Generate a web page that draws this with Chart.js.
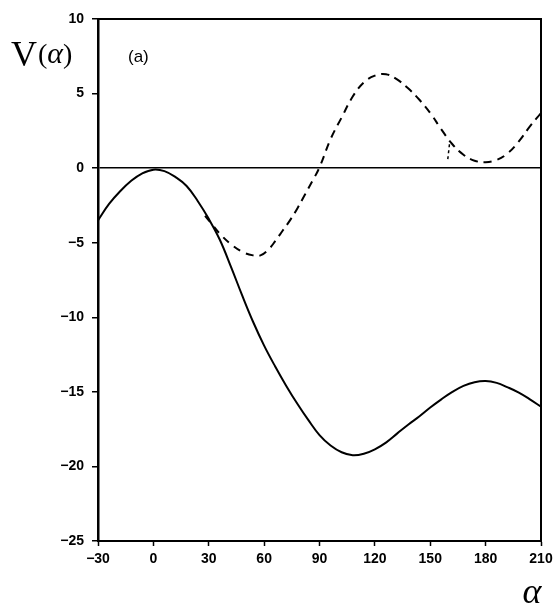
<!DOCTYPE html>
<html>
<head>
<meta charset="utf-8">
<script src="https://cdn.jsdelivr.net/npm/chart.js@4"></script>
<style>
  html, body { margin: 0; padding: 0; background: #fff; }
  #wrap { width: 558px; height: 609px; }
</style>
</head>
<body>
<div id="wrap"><canvas id="chart" width="558" height="609"></canvas></div>
<script>
// solid curve
const alphaSolid = [-30, -24, -18, -12, -6, 0, 6, 12, 18, 24, 30, 36, 42, 48, 54, 60, 66, 72, 78, 84,
	90, 96, 102, 108, 114, 120, 126, 132, 138, 144, 150, 156, 162, 168, 174, 180, 186, 192, 198, 204, 210];
const vSolid = [-3.5, -2.4, -1.55, -0.85, -0.35, -0.1, -0.2, -0.6, -1.2, -2.2, -3.4, -4.8, -6.6, -8.5, -10.3, -11.9, -13.3, -14.6, -15.8, -16.9,
	-17.9, -18.6, -19.05, -19.25, -19.15, -18.85, -18.4, -17.8, -17.2, -16.65, -16.05, -15.5, -15.0, -14.6, -14.35, -14.27, -14.4, -14.7, -15.05, -15.5, -16.0];

// dashed curve
const alphaDashed = [28, 32, 36, 42, 48, 54, 58, 62, 66, 70, 74, 78, 82, 86, 90, 96, 102, 108, 114, 120,
	126, 132, 138, 144, 150, 156, 162, 168, 174, 180, 186, 192, 198, 204, 210];
const vDashed = [-3.2, -3.8, -4.4, -5.1, -5.6, -5.85, -5.85, -5.5, -4.9, -4.2, -3.5, -2.7, -1.8, -0.9, 0.05, 1.95, 3.4, 4.8, 5.75, 6.2,
	6.3, 5.95, 5.35, 4.6, 3.7, 2.6, 1.6, 0.9, 0.5, 0.4, 0.55, 1.0, 1.8, 2.8, 3.7];

// small stray stroke near 160
const alphaGlitch = [159.5, 160.5];
const vGlitch = [0.6, 1.7];

const xMin = -30, xMax = 210, xStep = 30;
const yMin = -25, yMax = 10, yStep = 5;

const toPoints = (xs, ys) => xs.map((x, i) => ({ x: x, y: ys[i] }));
const minus = (v) => String(v).replace('-', '\u2212');

const labelsPlugin = {
	id: 'labels',
	afterDraw(chart) {
		const ctx = chart.ctx;
		const area = chart.chartArea;
		ctx.save();
		// frame
		ctx.strokeStyle = '#000';
		ctx.lineWidth = 2;
		ctx.beginPath();
		ctx.moveTo(area.left, area.top);
		ctx.lineTo(area.right, area.top);
		ctx.lineTo(area.right, area.bottom);
		ctx.stroke();

		ctx.fillStyle = '#000';
		ctx.textBaseline = 'alphabetic';
		// V(alpha)
		let x = 11;
		ctx.font = '36px "Liberation Serif"';
		ctx.fillText('V', x, 66);
		x += ctx.measureText('V').width + 1;
		ctx.font = '28px "Liberation Serif"';
		ctx.fillText('(', x, 63);
		x += ctx.measureText('(').width;
		ctx.font = 'italic 30px "Liberation Serif"';
		ctx.fillText('\u03b1', x, 63);
		x += ctx.measureText('\u03b1').width;
		ctx.font = '28px "Liberation Serif"';
		ctx.fillText(')', x, 63);

		// panel tag
		ctx.font = '17px "Liberation Sans"';
		ctx.fillText('(a)', 128, 62);

		// x title
		ctx.font = 'italic 36px "Liberation Serif"';
		ctx.textAlign = 'center';
		ctx.fillText('\u03b1', 532, 603);
		ctx.restore();
	}
};

new Chart(document.getElementById('chart'), {
	type: 'scatter',
	data: {
		datasets: [
			{
				data: toPoints(alphaSolid, vSolid),
				showLine: true,
				borderColor: '#000',
				borderWidth: 2,
				pointRadius: 0,
				tension: 0.4,
			},
			{
				data: toPoints(alphaDashed, vDashed),
				showLine: true,
				borderColor: '#000',
				borderWidth: 2,
				borderDash: [8, 6],
				pointRadius: 0,
				tension: 0.4,
			},
			{
				data: toPoints(alphaGlitch, vGlitch),
				showLine: true,
				borderColor: '#000',
				borderWidth: 1.5,
				borderDash: [3, 3],
				pointRadius: 0,
			},
		],
	},
	options: {
		responsive: false,
		animation: false,
		layout: { padding: { top: 19, right: 17, bottom: 0, left: 0 } },
		plugins: { legend: { display: false }, tooltip: { enabled: false } },
		scales: {
			x: {
				type: 'linear',
				min: xMin,
				max: xMax,
				afterFit: (s) => { s.height = 68; },
				ticks: {
					stepSize: xStep,
					color: '#000',
					padding: 5,
					font: { family: 'Liberation Sans', size: 14, weight: 'bold' },
					callback: minus,
				},
				grid: { drawOnChartArea: false, tickLength: 5, tickColor: '#000', tickWidth: 1.5 },
				border: { color: '#000', width: 2 },
			},
			y: {
				min: yMin,
				max: yMax,
				afterFit: (s) => { s.width = 98; },
				ticks: {
					stepSize: yStep,
					color: '#000',
					padding: 8,
					font: { family: 'Liberation Sans', size: 14, weight: 'bold' },
					callback: minus,
				},
				grid: {
					color: (c) => (c.tick && c.tick.value === 0 ? '#000' : 'rgba(0,0,0,0)'),
					lineWidth: 1.5,
					tickColor: '#000',
					tickLength: 6,
					tickWidth: 1.5,
				},
				border: { color: '#000', width: 2.5 },
			},
		},
	},
	plugins: [labelsPlugin],
});
</script>
</body>
</html>
